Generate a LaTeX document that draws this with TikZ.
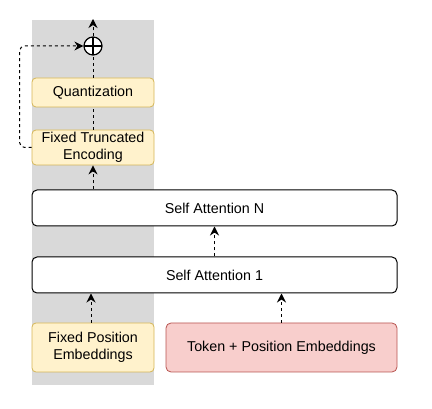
\documentclass[tikz,border=0pt]{standalone}
\usepackage{fontspec}
\setmainfont{Liberation Sans}
\usetikzlibrary{arrows.meta}
\definecolor{ylwfill}{HTML}{FFF2CC}
\definecolor{ylwdraw}{HTML}{D6B656}
\definecolor{pnkfill}{HTML}{F8CECC}
\definecolor{pnkdraw}{HTML}{B85450}
\definecolor{band}{HTML}{D9D9D9}
\begin{document}
\begin{tikzpicture}[x=1pt,y=-1pt,
  every node/.style={font=\fontsize{14.3}{17}\selectfont, align=center, inner sep=0pt},
  ybox/.style={draw=ylwdraw, fill=ylwfill, rounded corners=4pt, line width=0.8pt},
  pbox/.style={draw=pnkdraw, fill=pnkfill, rounded corners=5pt, line width=0.8pt},
  wbox/.style={draw=black, fill=white, rounded corners=5pt, line width=1pt},
  conn/.style={dashed, dash pattern=on 3pt off 3pt, line width=1pt},
  arr/.style={conn, -{Stealth[length=9pt,width=9pt,inset=3pt]}},
]
\useasboundingbox (0,0) rectangle (432,409);
\fill[band] (32,20) rectangle (154,385);

\node[ybox, minimum width=122pt, minimum height=29pt] (quant) at (93,92.5) {Quantization};
\node[ybox, minimum width=122pt, minimum height=35pt] (fte) at (93,147.5) {Fixed Truncated\\Encoding};
\node[wbox, minimum width=365pt, minimum height=36pt] (san) at (214.5,208) {Self Attention N};
\node[wbox, minimum width=365pt, minimum height=36pt] (sa1) at (214.5,275) {Self Attention 1};
\node[ybox, minimum width=122pt, minimum height=49pt] (fpe) at (93,347.5) {Fixed Position\\Embeddings};
\node[pbox, minimum width=231pt, minimum height=49pt] (tpe) at (281.5,347.5) {Token + Position Embeddings};

\node[draw, circle, minimum size=18pt, line width=1.2pt, fill=white,
  path picture={\draw[line width=1.2pt] (path picture bounding box.north) -- (path picture bounding box.south)
  (path picture bounding box.west) -- (path picture bounding box.east);}] (plus) at (93,46) {};
\coordinate (top) at (93,19);

\draw[arr] (plus.north) -- (top);
\draw[conn] (quant.north) -- (plus.south);
\draw[conn] (fte.north) -- (quant.south);
\draw[arr] (san.north -| fte.south) -- (fte.south);
\draw[arr] (sa1.north) -- (san.south);
\draw[arr] (fpe.north -| 91,0) -- (sa1.south -| 91,0);
\draw[arr] (tpe.north) -- (sa1.south -| tpe.north);
\draw[arr, rounded corners=5pt] (fte.west) -- ++(-12,0) |- (plus.west);
\end{tikzpicture}
\end{document}
